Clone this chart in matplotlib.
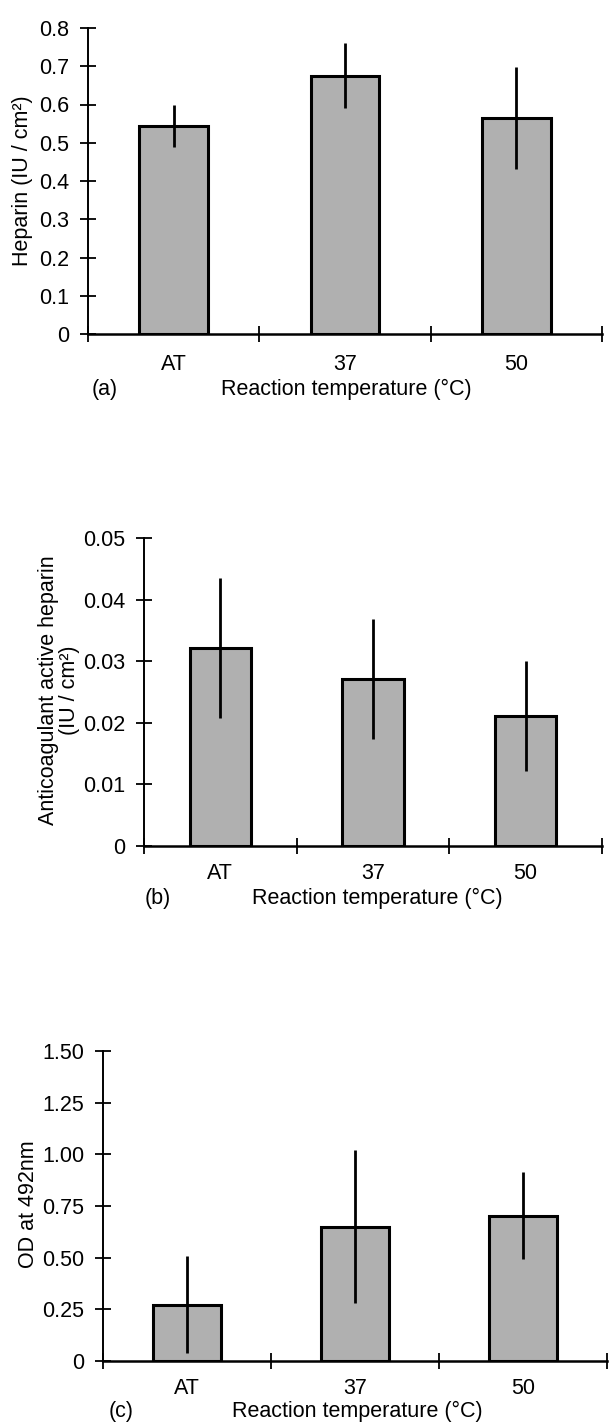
import matplotlib
matplotlib.use("Agg")
import matplotlib.pyplot as plt
import numpy as np

plt.rcParams['font.family'] = ['Liberation Sans', 'DejaVu Sans']

categories = ["AT", "37", "50"]

heparin = [0.543, 0.675, 0.565]
heparin_err = [0.055, 0.085, 0.133]
heparin_ticks = [0, 0.1, 0.2, 0.3, 0.4, 0.5, 0.6, 0.7, 0.8]
heparin_ticklabels = ["0", "0.1", "0.2", "0.3", "0.4", "0.5", "0.6", "0.7", "0.8"]

active = [0.0321, 0.0271, 0.0211]
active_err = [0.0114, 0.0098, 0.0089]
active_ticks = [0, 0.01, 0.02, 0.03, 0.04, 0.05]
active_ticklabels = ["0", "0.01", "0.02", "0.03", "0.04", "0.05"]

od = [0.273, 0.649, 0.704]
od_err = [0.234, 0.370, 0.212]
od_ticks = [0, 0.25, 0.5, 0.75, 1.0, 1.25, 1.5]
od_ticklabels = ["0", "0.25", "0.50", "0.75", "1.00", "1.25", "1.50"]

W, H = 609, 1425
fig = plt.figure(figsize=(W / 100, H / 100), dpi=100)

FS = 15.5
BAR_COLOR = "#b0b0b0"


def px_axes(l, r, top, bottom):
    return fig.add_axes([l / W, 1 - bottom / H, (r - l) / W, (bottom - top) / H])


def panel(ax, vals, errs, ticks, ticklabels, ymax, xpad):
    x = np.arange(len(categories))
    ax.bar(x, vals, width=0.40, color=BAR_COLOR, edgecolor="black", linewidth=2.2, zorder=2)
    ax.errorbar(x, vals, yerr=errs, fmt="none", ecolor="black", elinewidth=2.0,
                capsize=0, zorder=3)
    ax.set_xlim(-0.5, 2.5)
    ax.set_ylim(0, ymax)
    for s in ["top", "right"]:
        ax.spines[s].set_visible(False)
    ax.spines["left"].set_linewidth(1.4)
    ax.spines["bottom"].set_linewidth(1.8)
    ax.set_yticks(ticks)
    ax.set_yticklabels(ticklabels)
    ax.tick_params(axis="y", direction="inout", length=11, width=1.3,
                   labelsize=FS, pad=8)
    ax.set_xticks([-0.5, 0.5, 1.5, 2.5])
    ax.set_xticklabels([])
    ax.tick_params(axis="x", which="major", direction="inout", length=12, width=1.3)
    ax.set_xticks(x, minor=True)
    ax.set_xticklabels(categories, minor=True)
    ax.tick_params(axis="x", which="minor", length=0, labelsize=FS, pad=xpad)
    ax.patch.set_alpha(0)


def ftext(x, y, s, **kw):
    fig.text(x / W, 1 - y / H, s, fontsize=FS, ha="center", va="center", **kw)


# Panel (a)
ax1 = px_axes(88, 602, 28, 334)
panel(ax1, heparin, heparin_err, heparin_ticks, heparin_ticklabels, 0.8, 14.5)
ftext(23, 181, "Heparin (IU / cm²)", rotation=90)
ftext(105, 389, "(a)")
ftext(346, 389, "Reaction temperature (°C)")

# Panel (b)
ax2 = px_axes(144, 602, 538, 846)
panel(ax2, active, active_err, active_ticks, active_ticklabels, 0.05, 12.5)
ftext(59, 690, "Anticoagulant active heparin\n(IU / cm²)", rotation=90,
      linespacing=0.98)
ftext(158, 898, "(b)")
ftext(377, 898, "Reaction temperature (°C)")

# Panel (c)
ax3 = px_axes(103, 607, 1051, 1361)
panel(ax3, od, od_err, od_ticks, od_ticklabels, 1.5, 12.5)
ftext(29, 1204, "OD at 492nm", rotation=90)
ftext(121, 1411, "(c)")
ftext(357, 1411, "Reaction temperature (°C)")

fig.savefig("out.png", dpi=100, facecolor="white")
